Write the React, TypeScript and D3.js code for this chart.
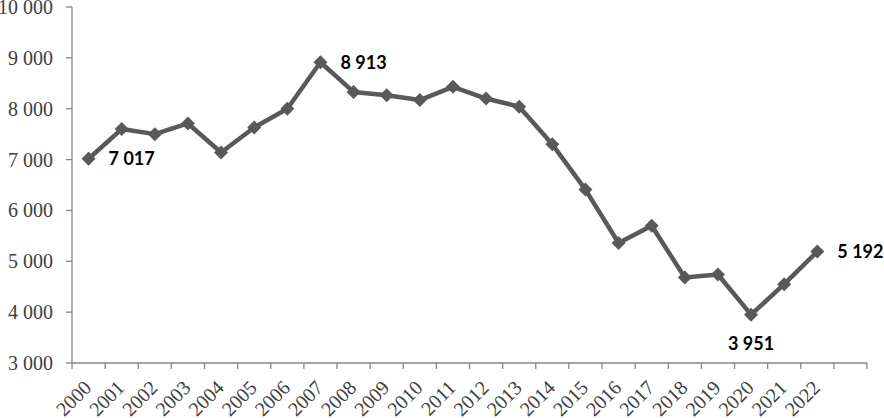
import React from "react";
import * as d3 from "d3";

const years: string[] = [
  "2000","2001","2002","2003","2004","2005","2006","2007","2008","2009","2010","2011",
  "2012","2013","2014","2015","2016","2017","2018","2019","2020","2021","2022",
];
const values: number[] = [
  7017, 7600, 7500, 7710, 7140, 7630, 8000, 8913, 8330, 8265, 8170, 8430,
  8200, 8040, 7300, 6410, 5360, 5700, 4680, 4740, 3951, 4550, 5192,
];
const yTicks: number[] = [3000, 4000, 5000, 6000, 7000, 8000, 9000, 10000];
// labelled points: index, placement
const labelled: { i: number; pos: "right" | "below" }[] = [
  { i: 0, pos: "right" },
  { i: 7, pos: "right" },
  { i: 20, pos: "below" },
  { i: 22, pos: "right" },
];

const W = 884;
const H = 418;
const left = 72;
const right = 867;
const top = 7;
const bottom = 363;

const fmt = (v: number) => d3.format(",")(v).replace(/,/g, " ");

export default function App() {
  const cats = [...years, ""];
  const x = d3.scaleBand<string>().domain(cats).range([left, right]).padding(0);
  const y = d3.scaleLinear().domain([3000, 10000]).range([bottom, top]);
  const cx = (i: number) => (x(cats[i]) as number) + x.bandwidth() / 2;
  const line = d3
    .line<number>()
    .x((_, i) => cx(i))
    .y((d) => y(d));
  const diamond = d3.symbol().type(d3.symbolDiamond2).size(125)();
  const axisColor = "#868686";
  const boundaries = d3.range(cats.length + 1).map((k) => left + k * x.bandwidth());

  return (
    <svg
      width={W}
      height={H}
      style={{ position: "absolute", left: 0, top: 0, background: "#fff" }}
    >
      {/* y axis */}
      <line x1={left} x2={left} y1={top} y2={bottom} stroke={axisColor} strokeWidth={1.3} />
      {yTicks.map((t) => (
        <g key={t}>
          <line x1={left - 6} x2={left} y1={y(t)} y2={y(t)} stroke={axisColor} strokeWidth={1.3} />
          <text
            x={53}
            y={y(t)}
            dy="0.35em"
            textAnchor="end"
            fontFamily="'Liberation Serif', 'Times New Roman', serif"
            fontSize={20}
            fill="#404040"
          >
            {fmt(t)}
          </text>
        </g>
      ))}
      {/* x axis */}
      <line x1={left} x2={right} y1={bottom} y2={bottom} stroke={axisColor} strokeWidth={1.3} />
      {boundaries.map((bx, k) => (
        <line key={k} x1={bx} x2={bx} y1={bottom} y2={bottom + 6} stroke={axisColor} strokeWidth={1.3} />
      ))}
      {years.map((yr, i) => (
        <text
          key={yr}
          transform={`translate(${cx(i) + 4},${bottom + 26}) rotate(-45)`}
          textAnchor="end"
          fontFamily="'Liberation Serif', 'Times New Roman', serif"
          fontSize={20}
          fill="#404040"
        >
          {yr}
        </text>
      ))}
      {/* line */}
      <path d={line(values) || ""} fill="none" stroke="#595959" strokeWidth={4.5} strokeLinejoin="round" />
      {values.map((v, i) => (
        <path key={i} d={diamond || ""} transform={`translate(${cx(i)},${y(v)})`} fill="#595959" />
      ))}
      {labelled.map(({ i, pos }) => (
        <text
          key={i}
          x={pos === "right" ? cx(i) + 20 : cx(i)}
          y={pos === "right" ? y(values[i]) : y(values[i]) + 29}
          dy="0.35em"
          textAnchor={pos === "right" ? "start" : "middle"}
          fontFamily="Lato, 'Open Sans', sans-serif"
          fontWeight={700}
          fontSize={18}
          fill="#000"
        >
          {fmt(values[i])}
        </text>
      ))}
    </svg>
  );
}
